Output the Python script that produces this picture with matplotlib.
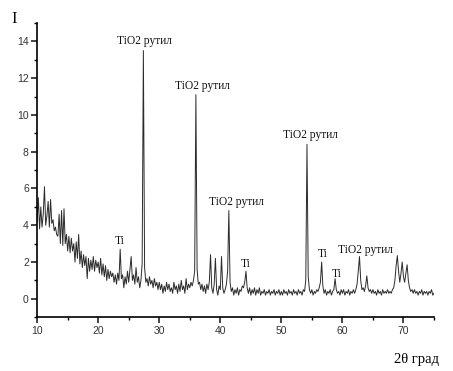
import numpy as np
import matplotlib
matplotlib.use("Agg")
import matplotlib.pyplot as plt

# scan grid, 0.2 deg step from 10 to 75
two_theta = np.round(np.arange(10.0, 75.0001, 0.2), 1)

# intensity, one list per 10 degrees
i_10_20 = [4.2, 5.5, 3.8, 5.0, 3.9, 4.6, 6.1, 4.0, 4.5, 5.3,
           3.9, 5.4, 4.1, 4.3, 3.7, 3.9, 3.5, 3.4, 4.6, 3.0,
           4.8, 2.9, 4.9, 3.0, 3.5, 2.6, 3.4, 2.5, 3.3, 2.6,
           3.0, 2.0, 3.1, 2.2, 3.5, 1.9, 2.6, 1.7, 2.4, 1.8,
           2.3, 1.1, 2.2, 1.5, 2.1, 1.6, 2.3, 1.5, 2.1, 1.7]
i_20_30 = [2.0, 1.4, 2.2, 1.3, 1.9, 1.2, 1.8, 1.0, 1.6, 1.1,
           1.5, 1.2, 1.4, 0.9, 1.3, 0.8, 1.4, 1.0, 2.7, 1.1,
           1.3, 0.6, 1.2, 0.8, 1.5, 0.9, 1.6, 2.3, 1.0, 1.3,
           0.8, 1.7, 0.9, 1.2, 0.6, 1.0, 1.9, 13.5, 1.7, 0.9,
           1.1, 0.7, 1.2, 0.8, 1.0, 0.6, 1.1, 0.7, 0.9, 0.5]
i_30_40 = [0.9, 0.5, 0.8, 0.3, 0.7, 0.4, 0.9, 0.5, 0.8, 0.4,
           0.6, 0.3, 0.9, 0.5, 0.7, 0.3, 0.8, 0.4, 1.0, 0.5,
           0.7, 0.3, 1.1, 0.5, 0.8, 0.6, 0.9, 0.7, 1.0, 1.5,
           11.1, 1.6, 0.8, 0.9, 0.5, 0.8, 0.4, 0.7, 0.3, 0.8,
           0.5, 0.9, 2.4, 0.6, 0.3, 0.8, 2.2, 0.5, 0.2, 0.7]
i_40_50 = [0.5, 2.3, 0.6, 0.3, 0.5, 0.8, 1.5, 4.8, 0.9, 0.4,
           0.6, 0.2, 0.5, 0.3, 0.6, 0.2, 0.5, 0.4, 0.7, 0.6,
           0.9, 1.5, 0.6, 0.3, 0.6, 0.2, 0.5, 0.3, 0.6, 0.2,
           0.5, 0.3, 0.6, 0.2, 0.4, 0.3, 0.5, 0.2, 0.4, 0.3,
           0.5, 0.2, 0.4, 0.3, 0.5, 0.2, 0.4, 0.3, 0.5, 0.2]
i_50_60 = [0.4, 0.2, 0.5, 0.3, 0.4, 0.2, 0.5, 0.3, 0.4, 0.2,
           0.5, 0.3, 0.4, 0.2, 0.5, 0.3, 0.4, 0.2, 0.5, 0.4,
           1.0, 8.4, 1.2, 0.5, 0.3, 0.5, 0.2, 0.4, 0.3, 0.5,
           0.4, 0.6, 0.9, 2.0, 0.7, 0.3, 0.5, 0.2, 0.4, 0.3,
           0.5, 0.2, 0.4, 0.5, 1.1, 0.5, 0.3, 0.4, 0.2, 0.5]
i_60_70 = [0.3, 0.5, 0.2, 0.4, 0.3, 0.5, 0.2, 0.4, 0.3, 0.5,
           0.3, 0.5, 0.8, 1.5, 2.3, 1.0, 0.5, 0.6, 0.4, 0.7,
           1.25, 0.6, 0.4, 0.5, 0.3, 0.5, 0.3, 0.4, 0.2, 0.5,
           0.3, 0.4, 0.2, 0.5, 0.3, 0.4, 0.3, 0.5, 0.3, 0.4,
           0.3, 0.5, 0.6, 1.0, 1.8, 2.35, 1.5, 0.9, 1.4, 2.0]
i_70_75 = [1.2, 0.9, 1.4, 1.85, 1.0, 0.6, 0.4, 0.5, 0.3, 0.5,
           0.3, 0.4, 0.2, 0.4, 0.3, 0.5, 0.2, 0.4, 0.3, 0.4,
           0.2, 0.4, 0.3, 0.5, 0.2, 0.3]

intensity = np.array(i_10_20 + i_20_30 + i_30_40 + i_40_50
                     + i_50_60 + i_60_70 + i_70_75)

# peak labels: text, x, y (data units)
label_text = ["TiO2 рутил", "TiO2 рутил", "TiO2 рутил", "TiO2 рутил", "TiO2 рутил",
              "Ti", "Ti", "Ti", "Ti"]
label_x = [27.6, 37.0, 42.6, 54.75, 63.85, 23.5, 44.2, 56.8, 59.0]
label_y = [14.0, 11.6, 5.25, 8.9, 2.68, 3.13, 1.9, 2.46, 1.36]

fig = plt.figure(figsize=(4.53, 3.71), dpi=100)
ax = fig.add_axes([0.082, 0.145, 0.876, 0.793])

ax.plot(two_theta, intensity, color="#2b2b2b", lw=0.7)

for t, x, y in zip(label_text, label_x, label_y):
    ax.text(x, y, t, ha="center", va="center", fontsize=8.3,
            family="Liberation Serif", color="#111111")

ax.set_xlim(10, 75)
ax.set_ylim(-1, 15)
ax.set_xticks(np.arange(10, 71, 10))
ax.set_xticks(np.arange(15, 76, 10), minor=True)
ax.set_yticks(np.arange(0, 15, 2))
ax.set_yticks(np.arange(-1, 16, 2), minor=True)

for side in ["top", "right"]:
    ax.spines[side].set_visible(False)
for side in ["left", "bottom"]:
    ax.spines[side].set_linewidth(1.2)

ax.tick_params(which="major", direction="out", length=4, width=1.1,
               labelsize=7.5, pad=2, colors="#111111")
ax.tick_params(which="minor", direction="out", length=2.5, width=1.0)
for lab in ax.get_xticklabels() + ax.get_yticklabels():
    lab.set_family("Liberation Sans")
    lab.set_color("#333333")

fig.text(0.031, 0.95, "I", fontsize=12, family="Liberation Serif", ha="center", va="center")
fig.text(0.92, 0.03, "2θ град", fontsize=10.5, family="Liberation Serif",
         ha="center", va="center")

fig.savefig("out.png", dpi=100)
